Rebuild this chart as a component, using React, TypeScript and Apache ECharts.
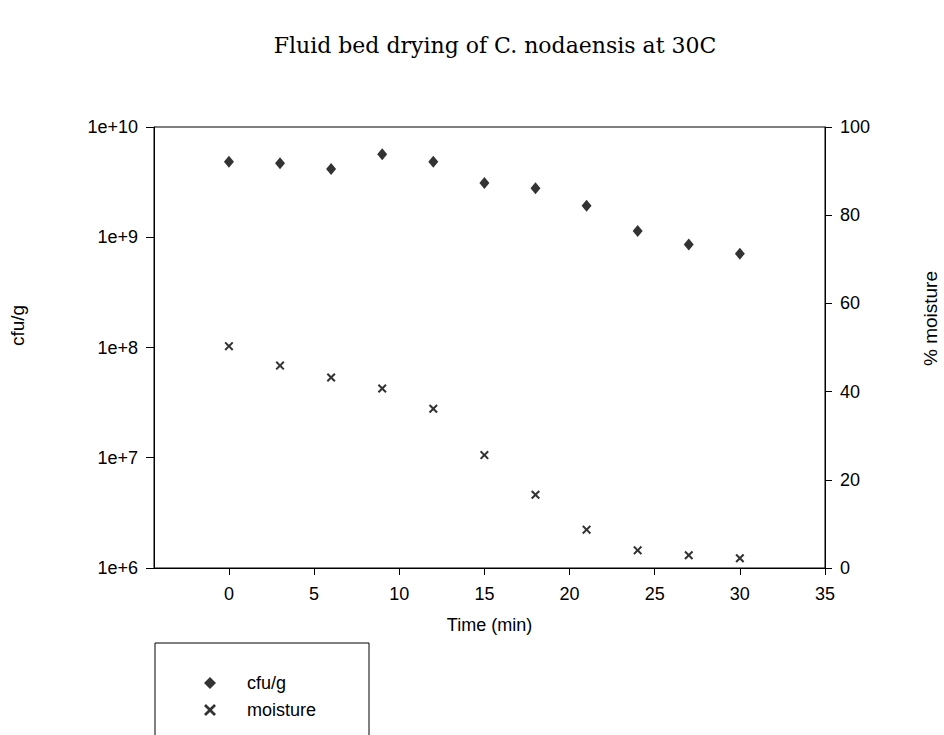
import React, { useEffect, useRef } from "react";
import * as echarts from "echarts";

const title = "Fluid bed drying of C. nodaensis at 30C";
const timeMin = [0, 3, 6, 9, 12, 15, 18, 21, 24, 27, 30];
const cfuPerGram = [4.84e9, 4.69e9, 4.16e9, 5.65e9, 4.84e9, 3.1e9, 2.78e9, 1.93e9, 1.14e9, 8.6e8, 7.1e8];
const moisturePct = [50.3, 45.9, 43.2, 40.7, 36.1, 25.6, 16.6, 8.7, 4.0, 2.9, 2.2];
const xTicks = [0, 5, 10, 15, 20, 25, 30, 35];

const CROSS = "path://M0,1.6 L1.6,0 L5,3.4 L8.4,0 L10,1.6 L6.6,5 L10,8.4 L8.4,10 L5,6.6 L1.6,10 L0,8.4 L3.4,5 Z";

export default function App() {
  const ref = useRef<HTMLDivElement>(null);
  useEffect(() => {
    if (!ref.current) return;
    const chart = echarts.init(ref.current, undefined, { renderer: "svg" });
    const sans = "'Liberation Sans', Arial, sans-serif";
    const axisText = { color: "#000", fontFamily: sans, fontSize: 18 };
    chart.setOption({
      animation: false,
      backgroundColor: "#fff",
      title: {
        text: title,
        left: 490,
        top: 29,
        textAlign: "center",
        textStyle: { fontFamily: "'DejaVu Serif', 'Liberation Serif', serif", fontWeight: "normal", fontSize: 22, color: "#000" },
      },
      grid: { left: 154, right: 119, top: 127, bottom: 167, containLabel: false, outerBoundsMode: "none", show: true, borderColor: "#000", borderWidth: 1 },
      legend: {
        orient: "vertical",
        left: 199,
        top: 669,
        itemWidth: 12,
        itemHeight: 12,
        itemGap: 9,
        data: ["cfu/g", "moisture"],
        textStyle: { ...axisText, padding: [0, 0, 0, 26] },
      },
      graphic: [
        { type: "rect", shape: { x: 155, y: 643, width: 214, height: 130 }, style: { fill: "none", stroke: "#000", lineWidth: 1 } },
      ],
      xAxis: {
        type: "value",
        min: -4.4,
        max: 35,
        name: "Time (min)",
        nameLocation: "middle",
        nameGap: 48,
        nameTextStyle: axisText,
        axisLine: { onZero: false, lineStyle: { color: "#000" } },
        axisTick: { show: true, length: 7, inside: false, customValues: xTicks, lineStyle: { color: "#000" } },
        axisLabel: { ...axisText, margin: 17, customValues: xTicks },
        splitLine: { show: false },
      },
      yAxis: [
        {
          type: "log",
          logBase: 10,
          min: 1e6,
          max: 1e10,
          name: "cfu/g",
          nameLocation: "middle",
          nameGap: 127,
          nameTextStyle: { ...axisText, fontSize: 19, padding: [0, 0, 0, 44] },
          axisLine: { show: true, onZero: false, lineStyle: { color: "#000" } },
          axisTick: { show: true, length: 8, lineStyle: { color: "#000" } },
          axisLabel: { ...axisText, margin: 16, formatter: (v: number) => "1e+" + Math.round(Math.log10(v)) },
          splitLine: { show: false },
        },
        {
          type: "value",
          min: 0,
          max: 100,
          interval: 20,
          position: "right",
          name: "% moisture",
          nameLocation: "middle",
          nameGap: 96,
          nameTextStyle: { ...axisText, fontSize: 19, padding: [0, 0, 0, 58] },
          axisLine: { show: true, onZero: false, lineStyle: { color: "#000" } },
          axisTick: { show: true, length: 7, lineStyle: { color: "#000" } },
          axisLabel: { ...axisText, margin: 15 },
          splitLine: { show: false },
        },
      ],
      series: [
        {
          name: "cfu/g",
          type: "scatter",
          yAxisIndex: 0,
          symbol: "diamond",
          symbolSize: [10, 12],
          itemStyle: { color: "#000" },
          data: timeMin.map((t, i) => [t, cfuPerGram[i]]),
        },
        {
          name: "moisture",
          type: "scatter",
          yAxisIndex: 1,
          symbol: CROSS,
          symbolSize: 9,
          itemStyle: { color: "#000" },
          data: timeMin.map((t, i) => [t, moisturePct[i]]),
        },
      ],
    });
    return () => chart.dispose();
  }, []);
  return <div ref={ref} style={{ position: "fixed", left: 0, top: 0, width: 944, height: 735 }} />;
}
